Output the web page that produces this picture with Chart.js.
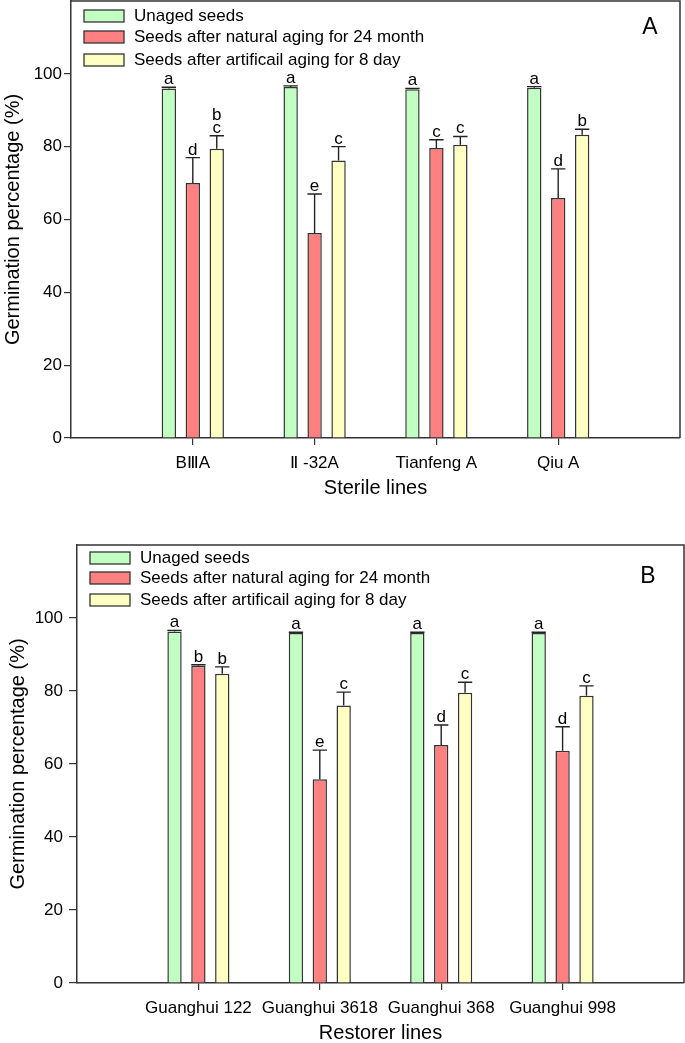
<!DOCTYPE html>
<html><head><meta charset="utf-8">
<script src="https://cdn.jsdelivr.net/npm/chart.js@4.4.0/dist/chart.umd.min.js"></script>
<style>
html,body{margin:0;padding:0;background:#fff;width:685px;height:1043px;overflow:hidden;}
canvas{position:absolute;left:0;}
</style></head><body>
<canvas id="chartA" width="685" height="510" style="top:0px"></canvas>
<canvas id="chartB" width="685" height="513" style="top:530px"></canvas>
<script>
// ---------- shared ----------
const seriesNames = ['Unaged seeds', 'Seeds after natural aging for 24 month', 'Seeds after artificail aging for 8 day'];
const seriesColors = ['#C2FFC2', '#FF8080', '#FFFFC4'];
const yTickValues = [0, 20, 40, 60, 80, 100];
const yTitle = 'Germination percentage (%)';

// ---------- panel A: sterile lines ----------
const categoriesA = ['BⅢA', 'Ⅱ -32A', 'Tianfeng A', 'Qiu A'];
const unagedA = [96.0, 96.4, 95.8, 96.2];
const unagedErrA = [0.3, 0.3, 0.2, 0.3];
const naturalA = [70.0, 56.3, 79.6, 65.9];
const naturalErrA = [7.0, 10.7, 2.3, 8.0];
const artificialA = [79.4, 76.2, 80.5, 83.3];
const artificialErrA = [3.6, 3.8, 2.3, 1.5];
const unagedLetA = ['a', 'a', 'a', 'a'];
const naturalLetA = ['d', 'e', 'c', 'd'];
const artificialLetA = [['b', 'c'], 'c', 'c', 'b'];

// ---------- panel B: restorer lines ----------
const categoriesB = ['Guanghui 122', 'Guanghui 3618', 'Guanghui 368', 'Guanghui 998'];
const unagedB = [96.3, 95.9, 95.9, 95.9];
const unagedErrB = [0.3, 0.2, 0.2, 0.2];
const naturalB = [86.9, 55.8, 65.2, 63.6];
const naturalErrB = [0.3, 8.0, 5.5, 6.6];
const artificialB = [84.7, 76.0, 79.5, 78.7];
const artificialErrB = [1.9, 3.7, 2.9, 2.7];
const unagedLetB = ['a', 'a', 'a', 'a'];
const naturalLetB = ['b', 'e', 'd', 'd'];
const artificialLetB = ['b', 'c', 'c', 'c'];

const FONT = '"Liberation Sans", Arial, Helvetica, sans-serif';
Chart.defaults.font.family = FONT;
Chart.defaults.color = '#000';
const AX = '#333333';

function padded(arr) { return [null, ...arr, null]; }

const decorPlugin = {
  id: 'decor',
  afterDatasetsDraw(chart, args, o) {
    const ctx = chart.ctx;
    const ca = chart.chartArea;
    const ys = chart.scales.y;
    ctx.save();
    // top and right frame
    ctx.strokeStyle = AX; ctx.lineWidth = 1.5;
    ctx.beginPath();
    ctx.moveTo(ca.left, ca.top); ctx.lineTo(ca.right, ca.top); ctx.lineTo(ca.right, ca.bottom);
    ctx.stroke();
    // error bars and letters
    chart.data.datasets.forEach((ds, k) => {
      const meta = chart.getDatasetMeta(k);
      meta.data.forEach((bar, i) => {
        const v = ds.data[i];
        if (v == null) return;
        const yTop = ys.getPixelForValue(v + ds.errors[i]);
        const half = bar.width / 2;
        ctx.strokeStyle = '#222'; ctx.lineWidth = 1.4;
        ctx.beginPath();
        ctx.moveTo(bar.x, bar.y); ctx.lineTo(bar.x, yTop);
        ctx.moveTo(bar.x - half, yTop); ctx.lineTo(bar.x + half, yTop);
        ctx.stroke();
        const let_ = ds.letters[i];
        const lines = Array.isArray(let_) ? let_ : [let_];
        ctx.fillStyle = '#000';
        ctx.font = '17px ' + FONT;
        ctx.textAlign = 'center'; ctx.textBaseline = 'alphabetic';
        for (let j = 0; j < lines.length; j++) {
          ctx.fillText(lines[lines.length - 1 - j], bar.x, yTop - 3 - j * 13);
        }
      });
    });
    // legend
    chart.data.datasets.forEach((ds, k) => {
      const cy = ca.top + o.rows[k];
      ctx.fillStyle = ds.backgroundColor;
      ctx.fillRect(ca.left + 13, cy - 6, 40, 12);
      ctx.strokeStyle = AX; ctx.lineWidth = 1.3;
      ctx.strokeRect(ca.left + 13, cy - 6, 40, 12);
      ctx.fillStyle = '#000';
      ctx.font = '17px ' + FONT;
      ctx.textAlign = 'left'; ctx.textBaseline = 'middle';
      ctx.fillText(ds.label, ca.left + 63, cy);
    });
    // panel letter
    ctx.font = '23px ' + FONT;
    ctx.textAlign = 'center'; ctx.textBaseline = 'middle';
    ctx.fillText(o.panel, ca.right - o.panelDx, ca.top + o.panelDy);
    ctx.restore();
  }
};

function makePanel(id, p) {
  const labels = ['', ...p.categories, ''];
  return new Chart(document.getElementById(id), {
    type: 'bar',
    data: {
      labels,
      datasets: p.series.map((v, k) => ({
        label: seriesNames[k],
        data: padded(v),
        errors: padded(p.errors[k]),
        letters: padded(p.letters[k]),
        backgroundColor: seriesColors[k],
        borderColor: AX,
        borderWidth: 1.5,
        categoryPercentage: 0.59,
        barPercentage: 0.6
      }))
    },
    options: {
      responsive: false, animation: false, devicePixelRatio: 1,
      layout: { padding: { left: 0, right: p.padRight, top: p.padTop, bottom: 0 } },
      plugins: {
        legend: { display: false }, tooltip: { enabled: false },
        decor: { rows: p.rows, panel: p.panel, panelDx: p.panelDx, panelDy: p.panelDy }
      },
      scales: {
        x: {
          type: 'category', offset: false,
          grid: {
            display: true, offset: false, drawOnChartArea: false, drawTicks: true, tickLength: 7, lineWidth: 1.2,
            color: (c) => (c.index === 0 || c.index === labels.length - 1) ? 'rgba(0,0,0,0)' : AX
          },
          border: { display: true, color: AX, width: 1.5 },
          ticks: { color: '#000', font: { size: 17 }, padding: p.xTickPad, autoSkip: false, maxRotation: 0, minRotation: 0 },
          title: { display: true, text: p.xTitle, color: '#000', font: { size: 20, lineHeight: 1.0 }, padding: { top: 0, bottom: p.xTitlePad } },
          afterFit: (s) => { s.height = p.xHeight; s.paddingLeft = 0; s.paddingRight = 0; }
        },
        y: {
          min: 0, max: 120,
          afterBuildTicks: (s) => { s.ticks = yTickValues.map(v => ({ value: v })); },
          grid: { display: true, drawOnChartArea: false, drawTicks: true, tickLength: p.yTickLen, lineWidth: 1.2, color: AX },
          border: { display: true, color: AX, width: 1.5 },
          ticks: { color: '#000', font: { size: 17 }, padding: p.yTickPad },
          title: { display: true, text: yTitle, color: '#000', font: { size: 20, lineHeight: 1.0 }, padding: { top: p.yTitlePad, bottom: 0 } },
          afterFit: (s) => { s.width = p.yWidth; s.paddingTop = 0; s.paddingBottom = 0; }
        }
      }
    },
    plugins: [decorPlugin]
  });
}

makePanel('chartA', {
  categories: categoriesA,
  series: [unagedA, naturalA, artificialA],
  errors: [unagedErrA, naturalErrA, artificialErrA],
  letters: [unagedLetA, naturalLetA, artificialLetA],
  xTitle: 'Sterile lines',
  padTop: 1, padRight: 5, yWidth: 71, xHeight: 72,
  xTickPad: 8, xTitlePad: 12, yTickLen: 7, yTickPad: 2, yTitlePad: 3,
  rows: [15, 36, 59], panel: 'A', panelDx: 30, panelDy: 27
});
makePanel('chartB', {
  categories: categoriesB,
  series: [unagedB, naturalB, artificialB],
  errors: [unagedErrB, naturalErrB, artificialErrB],
  letters: [unagedLetB, naturalLetB, artificialLetB],
  xTitle: 'Restorer lines',
  padTop: 15, padRight: 1, yWidth: 77, xHeight: 60,
  xTickPad: 8, xTitlePad: 0, yTickLen: 8, yTickPad: 6, yTitlePad: 8,
  rows: [13, 33, 55], panel: 'B', panelDx: 36, panelDy: 32
});
</script>
</body></html>
